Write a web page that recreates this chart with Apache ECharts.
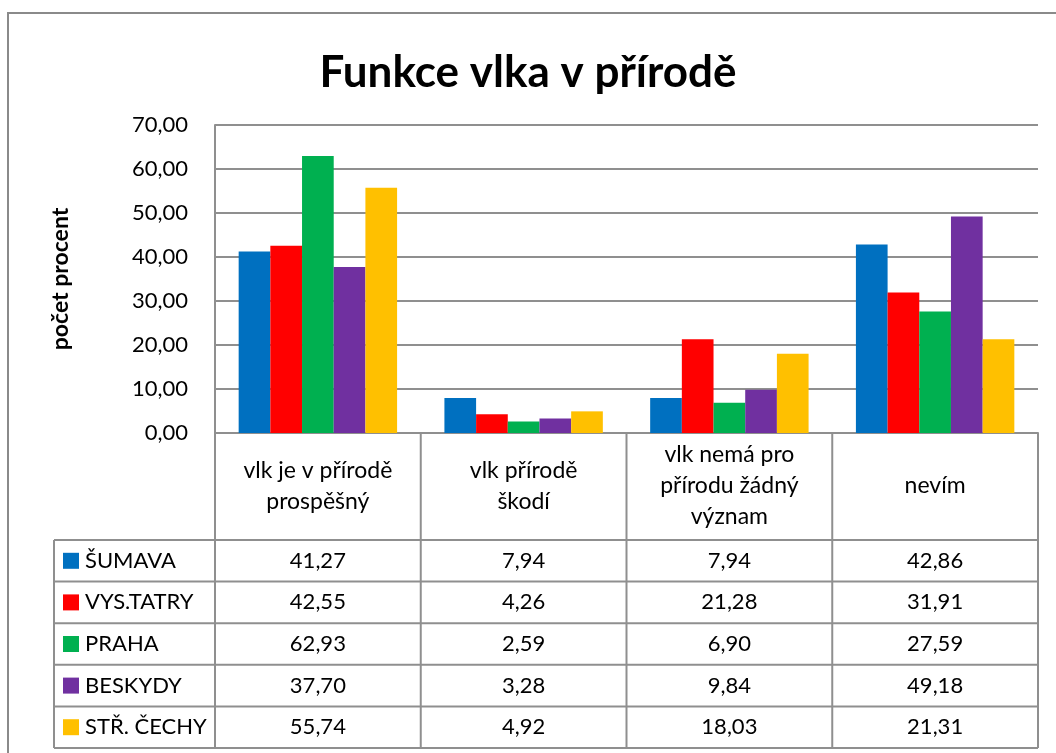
<!DOCTYPE html>
<html>
<head>
<meta charset="utf-8">
<script src="https://cdn.jsdelivr.net/npm/echarts@6/dist/echarts.min.js"></script>
<style>
html, body { margin: 0; padding: 0; background: #fff; }
#main { width: 1056px; height: 753px; }
</style>
</head>
<body>
<div id="main"></div>
<script>
var categories = ['vlk je v přírodě\nprospěšný', 'vlk přírodě\nškodí', 'vlk nemá pro\npřírodu žádný\nvýznam', 'nevím'];
var regions = ['ŠUMAVA', 'VYS.TATRY', 'PRAHA', 'BESKYDY', 'STŘ. ČECHY'];
var sumava = [41.27, 7.94, 7.94, 42.86];
var vysTatry = [42.55, 4.26, 21.28, 31.91];
var praha = [62.93, 2.59, 6.90, 27.59];
var beskydy = [37.70, 3.28, 9.84, 49.18];
var strCechy = [55.74, 4.92, 18.03, 21.31];
var yMin = 0, yMax = 70, yStep = 10;

var values = [sumava, vysTatry, praha, beskydy, strCechy];
var colors = ['#0070C0', '#FF0000', '#00B050', '#7030A0', '#FFC000'];
var font = 'Lato, "Open Sans", sans-serif';
var lineColor = '#8f8f8f';

// plot / table geometry
var plotL = 215, plotR = 1038, plotT = 125, axisY = 433;
var headB = 540, rowH = 41.6, tableL = 54;

function fmt(v) {
    return v.toFixed(2).replace('.', ',');
}

var chart = echarts.init(document.getElementById('main'));

var series = regions.map(function (name, i) {
    return {
        name: name,
        type: 'bar',
        data: values[i],
        barGap: '0%',
        barCategoryGap: '23%',
        itemStyle: { color: colors[i] },
        animation: false
    };
});

chart.setOption({
    backgroundColor: '#fff',
    animation: false,
    title: {
        text: 'Funkce vlka v přírodě',
        left: 'center',
        top: 46,
        textStyle: { fontFamily: font, fontSize: 44, fontWeight: 'bold', color: '#000' }
    },
    grid: {
        left: plotL,
        right: 1056 - plotR,
        top: plotT,
        bottom: 753 - axisY,
        containLabel: false
    },
    xAxis: {
        type: 'category',
        data: categories,
        axisTick: { show: false },
        axisLine: { lineStyle: { color: lineColor, width: 2 } },
        axisLabel: {
            interval: 0,
            margin: 53,
            verticalAlign: 'middle',
            fontFamily: font,
            fontSize: 23,
            lineHeight: 31,
            color: '#000'
        }
    },
    yAxis: {
        type: 'value',
        min: yMin,
        max: yMax,
        interval: yStep,
        name: 'počet procent',
        nameLocation: 'middle',
        nameGap: 143,
        nameRotate: 90,
        nameTextStyle: { fontFamily: font, fontSize: 23, fontWeight: 'bold', color: '#000' },
        axisLine: { show: true, lineStyle: { color: lineColor, width: 2 } },
        axisTick: { show: false },
        splitLine: { lineStyle: { color: lineColor, width: 2 } },
        axisLabel: {
            margin: 27,
            fontFamily: font,
            fontSize: 22,
            color: '#000',
            formatter: function (v) { return fmt(v); }
        }
    },
    series: series
});

// data table below the plot
var g = [];
var tableB = headB + rowH * regions.length;
var colW = (plotR - plotL) / categories.length;

g.push({
    type: 'rect', silent: true,
    shape: { x: 8, y: 13, width: 1200, height: 900 },
    style: { fill: null, stroke: '#8a8a8a', lineWidth: 2 }
});

function hline(x1, x2, y) {
    g.push({ type: 'line', silent: true, shape: { x1: x1, y1: y, x2: x2, y2: y },
        style: { stroke: lineColor, lineWidth: 2 } });
}
function vline(x, y1, y2) {
    g.push({ type: 'line', silent: true, shape: { x1: x, y1: y1, x2: x, y2: y2 },
        style: { stroke: lineColor, lineWidth: 2 } });
}

for (var c = 0; c <= categories.length; c++) {
    vline(plotL + c * colW, axisY, tableB);
}
vline(tableL, headB, tableB);
for (var r = 0; r <= regions.length; r++) {
    hline(tableL, plotR, headB + r * rowH);
}

regions.forEach(function (name, i) {
    var cy = headB + rowH * (i + 0.5);
    g.push({ type: 'rect', silent: true,
        shape: { x: 63, y: cy - 8, width: 16, height: 16 },
        style: { fill: colors[i] } });
    g.push({ type: 'text', silent: true, x: 85, y: cy,
        style: { text: name, fontFamily: font, fontSize: 22, fill: '#000',
            align: 'left', verticalAlign: 'middle' } });
    values[i].forEach(function (v, j) {
        var cx = chart.convertToPixel({ xAxisIndex: 0 }, categories[j]);
        g.push({ type: 'text', silent: true, x: cx, y: cy,
            style: { text: fmt(v), fontFamily: font, fontSize: 22, fill: '#000',
                align: 'center', verticalAlign: 'middle' } });
    });
});

chart.setOption({ graphic: g });
</script>
</body>
</html>
